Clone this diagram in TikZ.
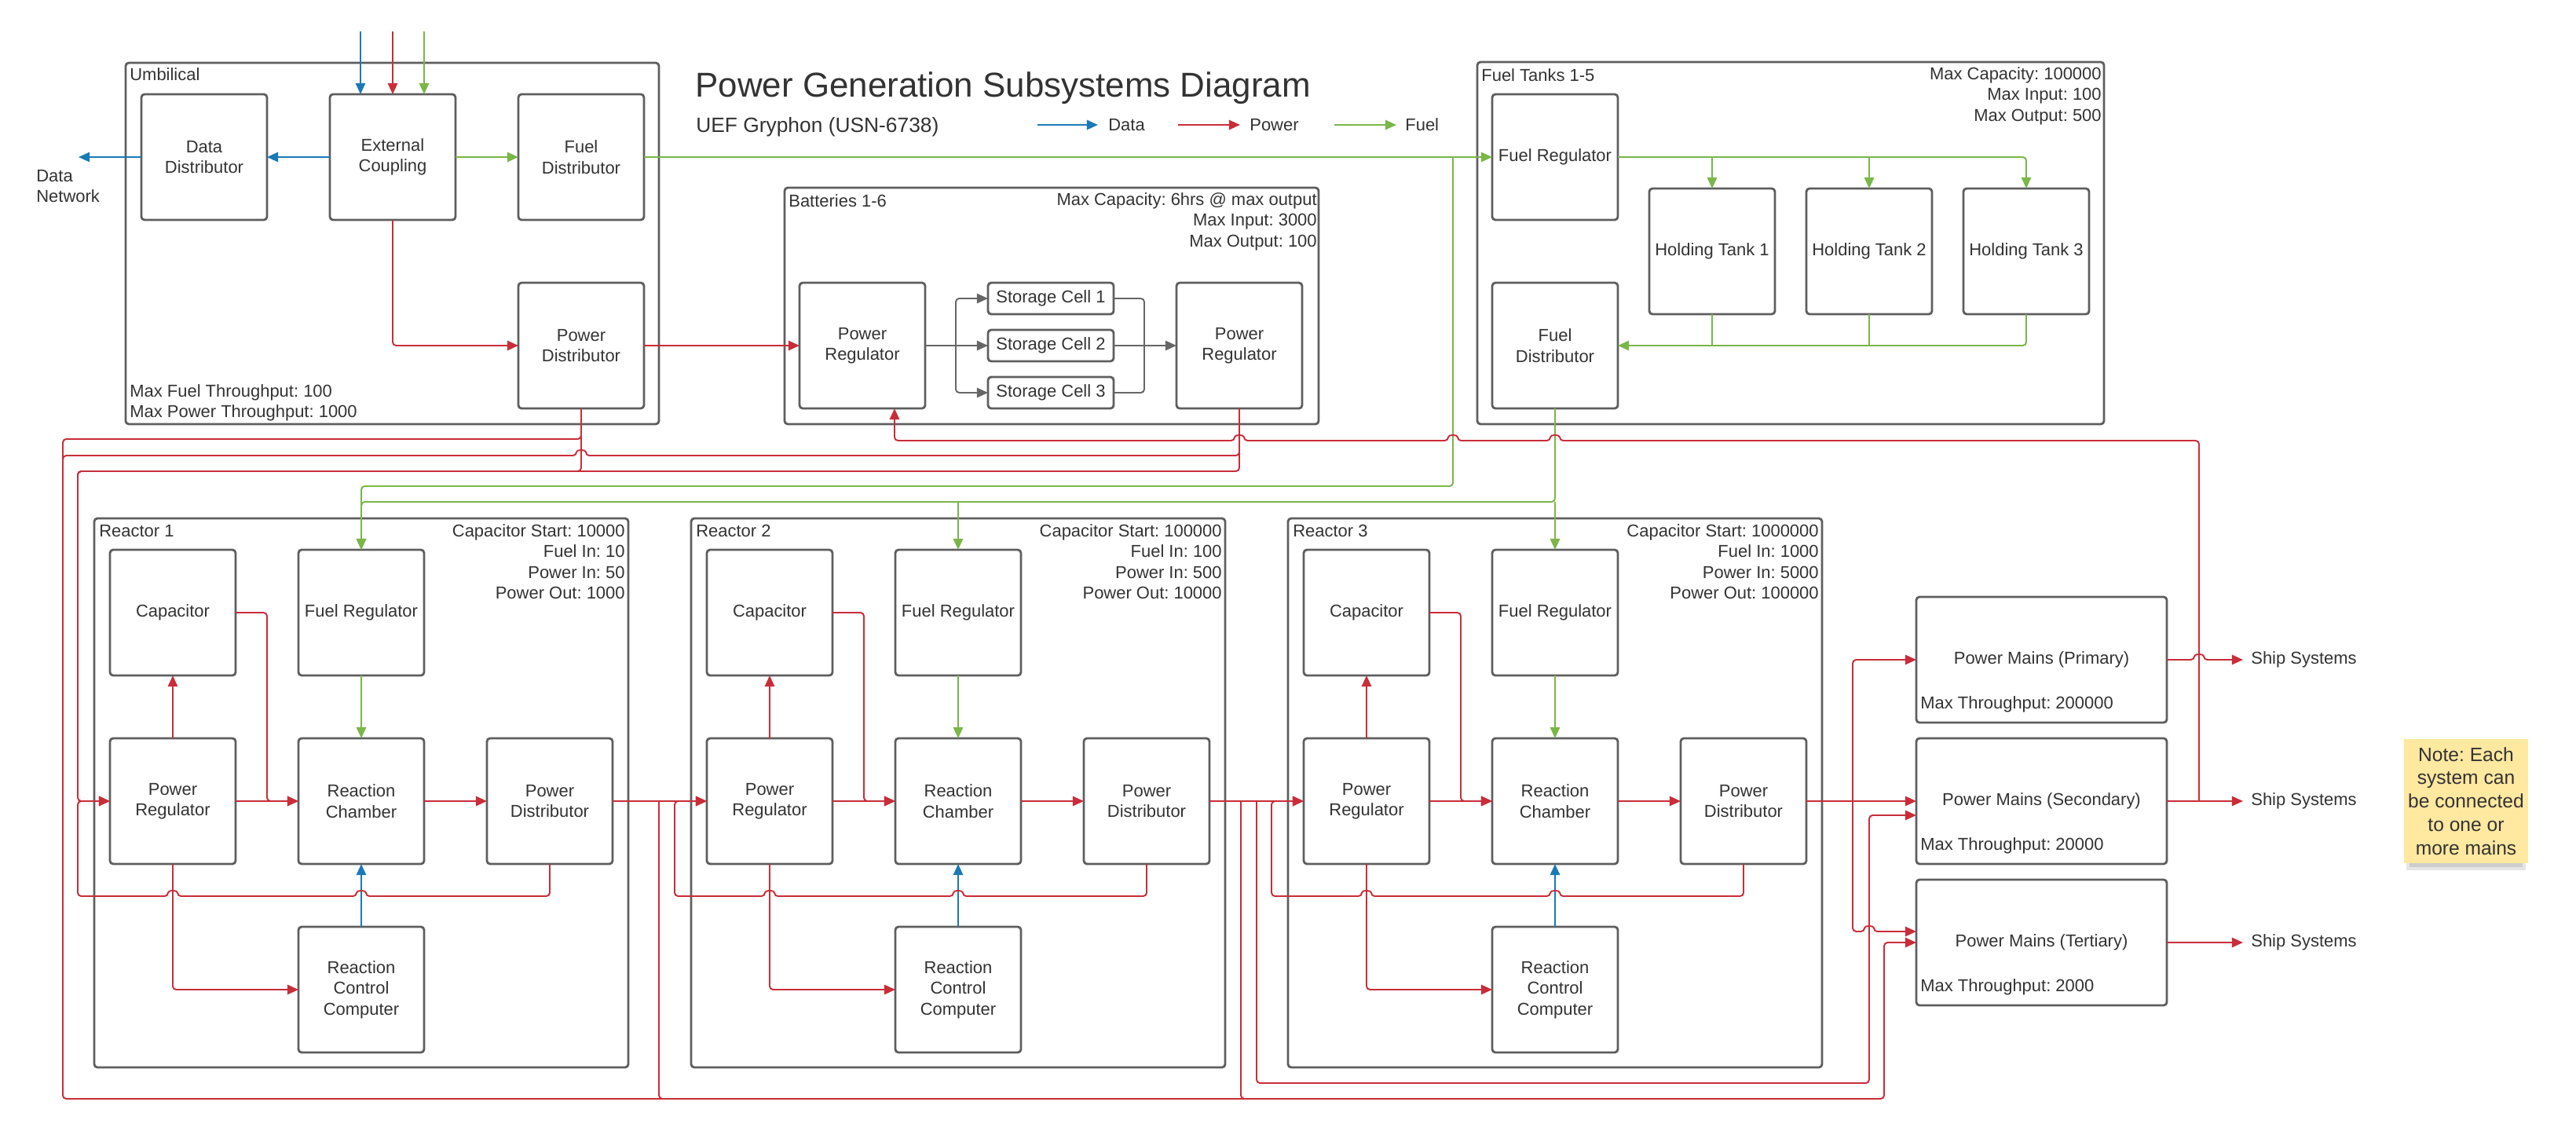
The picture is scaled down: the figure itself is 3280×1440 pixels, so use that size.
\documentclass[tikz,border=0pt]{standalone}
\usepackage{fontspec}
\setmainfont{Liberation Sans}
\usetikzlibrary{arrows.meta}
\frenchspacing
\definecolor{bgray}{HTML}{5E5E5E}
\definecolor{txt}{HTML}{333333}
\definecolor{pred}{HTML}{C92D39}
\definecolor{pgreen}{HTML}{7AB648}
\definecolor{pblue}{HTML}{1A7AB8}
\definecolor{cgray}{HTML}{666666}
\definecolor{notey}{HTML}{FFE8A0}
\tikzset{
  bx/.style={draw=bgray, line width=1.6pt, rounded corners=2.3pt, fill=white, inner sep=0pt, outer sep=0pt, align=center, text=txt},
  grp/.style={draw=bgray, line width=1.6pt, rounded corners=2.3pt, inner sep=0pt, outer sep=0pt},
  conn/.style={line width=1.1pt, rounded corners=2.5pt},
  pwr/.style={conn, color=pred},
  fuelc/.style={conn, color=pgreen},
  datac/.style={conn, color=pblue},
  cellc/.style={conn, color=cgray},
  arr/.style={-{Triangle[length=8pt,width=7pt]}},
  hopL/.style 2 args={insert path={-- (#1+6,#2) .. controls (#1+6,#2-8) and (#1-6,#2-8) .. (#1-6,#2)}},
  hopR/.style 2 args={insert path={-- (#1-6,#2) .. controls (#1-6,#2-8) and (#1+6,#2-8) .. (#1+6,#2)}},
}
\newcommand\mybox[6]{\node[bx, minimum width={(#4-#2)*0.02cm}, minimum height={(#5-#3)*0.02cm}] (#1) at ({(#2+#4)/2},{(#3+#5)/2}) {#6};}
\newcommand\mygrp[5]{\node[grp, minimum width={(#4-#2)*0.02cm}, minimum height={(#5-#3)*0.02cm}] (#1) at ({(#2+#4)/2},{(#3+#5)/2}) {};}
\begin{document}
\begin{tikzpicture}[x=0.02cm, y=-0.02cm, font=\fontsize{12.5}{15}\selectfont, every node/.append style={text=txt, inner sep=0pt}]
\useasboundingbox (0,0) rectangle (3280,1440);
\fill[white] (0,0) rectangle (3280,1440);

% ---------- title and legend ----------
\node[anchor=base west, font=\fontsize{25}{30}\selectfont] (title) at (885,123) {Power Generation Subsystems Diagram};
\node[anchor=base west, font=\fontsize{15}{18}\selectfont] (subtitle) at (886,168) {UEF Gryphon (USN-6738)};
\coordinate (lgD1) at (1321,159); \coordinate (lgD2) at (1398,159);
\coordinate (lgP1) at (1500,159); \coordinate (lgP2) at (1579,159);
\coordinate (lgF1) at (1699,159); \coordinate (lgF2) at (1778,159);
\node[anchor=west] (lgDt) at (1411,159) {Data};
\node[anchor=west] (lgPt) at (1591,159) {Power};
\node[anchor=west] (lgFt) at (1789,159) {Fuel};

% ---------- containers ----------
\mygrp{umb}{160}{80}{839}{540}
\mygrp{bat}{999}{239}{1679}{540}
\mygrp{ftk}{1881}{79}{2679}{540}

% ---------- umbilical ----------
\node[anchor=west] (umbt) at (165,95) {Umbilical};
\node[anchor=west, align=left] (umbs) at (165,513) {Max Fuel Throughput: 100\\Max Power Throughput: 1000};
\mybox{dd}{180}{120}{340}{280}{Data\\Distributor}
\mybox{ec}{420}{120}{580}{280}{External\\Coupling}
\mybox{fdu}{660}{120}{820}{280}{Fuel\\Distributor}
\mybox{pdu}{660}{360}{820}{520}{Power\\Distributor}
\node[anchor=west, align=left] (dnetl) at (46,237) {Data\\Network};

% ---------- batteries ----------
\node[anchor=west] (batt) at (1004,256) {Batteries 1-6};
\node[anchor=east, align=right] (bats) at (1677,282) {Max Capacity: 6hrs @ max output\\Max Input: 3000\\Max Output: 100};
\mybox{blr}{1018}{360}{1178}{520}{Power\\Regulator}
\mybox{cell1}{1258}{360}{1418}{400}{Storage Cell 1}
\mybox{cell2}{1258}{420}{1418}{460}{Storage Cell 2}
\mybox{cell3}{1258}{480}{1418}{520}{Storage Cell 3}
\mybox{brr}{1498}{360}{1658}{520}{Power\\Regulator}

% ---------- fuel tanks ----------
\node[anchor=west] (ftkt) at (1886,96) {Fuel Tanks 1-5};
\node[anchor=east, align=right] (ftks) at (2676,122) {Max Capacity: 100000\\Max Input: 100\\Max Output: 500};
\mybox{ftfr}{1900}{120}{2060}{280}{Fuel Regulator}
\mybox{ftfd}{1900}{360}{2060}{520}{Fuel\\Distributor}
\mybox{ht1}{2100}{240}{2260}{400}{Holding Tank 1}
\mybox{ht2}{2300}{240}{2460}{400}{Holding Tank 2}
\mybox{ht3}{2500}{240}{2660}{400}{Holding Tank 3}

% ---------- reactors ----------
\foreach \k/\dx/\rcs/\rfi/\rpi/\rpo in {1/0/10000/10/50/1000, 2/760/100000/100/500/10000, 3/1520/1000000/1000/5000/100000}{
\begin{scope}[xshift=\dx*0.02cm]
  \mygrp{r\k}{120}{660}{800}{1359}
  \node[anchor=west] (r\k-t) at (126,676) {Reactor \k};
  \node[anchor=east, align=right] (r\k-s) at (796,715) {Capacitor Start: \rcs\\Fuel In: \rfi\\Power In: \rpi\\Power Out: \rpo};
  \mybox{r\k-cap}{140}{700}{300}{860}{Capacitor}
  \mybox{r\k-fr}{380}{700}{540}{860}{Fuel Regulator}
  \mybox{r\k-pr}{140}{940}{300}{1100}{Power\\Regulator}
  \mybox{r\k-rc}{380}{940}{540}{1100}{Reaction\\Chamber}
  \mybox{r\k-pd}{620}{940}{780}{1100}{Power\\Distributor}
  \mybox{r\k-rcc}{380}{1180}{540}{1340}{Reaction\\Control\\Computer}
  \draw[pwr,arr] (r\k-pr.north) -- (r\k-cap.south);
  \draw[pwr,arr] (r\k-pr.east) -- (r\k-rc.west);
  \draw[pwr,arr] (r\k-cap.east) -- (340,780) -- (340,1020) -- (r\k-rc.west);
  \draw[pwr,arr] (r\k-rc.east) -- (r\k-pd.west);
  \draw[fuelc,arr] (r\k-fr.south) -- (r\k-rc.north);
  \draw[datac,arr] (r\k-rcc.north) -- (r\k-rc.south);
  \draw[pwr,arr] (r\k-pr.south) -- (220,1260) -- (r\k-rcc.west);
  \draw[pwr,arr] (r\k-pd.south) -- (700,1141) [hopL={460}{1141}] [hopL={220}{1141}] -- (99,1141) -- (99,1020) -- (r\k-pr.west);
\end{scope}
}

% ---------- power mains ----------
\mybox{prim}{2440}{760}{2759}{920}{Power Mains (Primary)}
\mybox{sec}{2440}{940}{2759}{1100}{Power Mains (Secondary)}
\mybox{tert}{2440}{1120}{2759}{1280}{Power Mains (Tertiary)}
\node[anchor=west] (primt) at (2445,897) {Max Throughput: 200000};
\node[anchor=west] (sect) at (2445,1077) {Max Throughput: 20000};
\node[anchor=west] (tertt) at (2445,1257) {Max Throughput: 2000};
\node[anchor=west] (ss1t) at (2866,840) {Ship Systems};
\node[anchor=west] (ss2t) at (2866,1020) {Ship Systems};
\node[anchor=west] (ss3t) at (2866,1200) {Ship Systems};

% ---------- note ----------
\fill[black, opacity=0.10] (3064,1094) rectangle (3216,1108);
\fill[black, opacity=0.10] (3068,1096) rectangle (3212,1104);
\node[fill=notey, inner sep=0pt, align=center, minimum width=3.16cm, minimum height=3.16cm, font=\fontsize{14}{17}\selectfont] (note) at (3140,1020) {Note: Each\\system can\\be connected\\to one or\\more mains};

% ---------- free ends ----------
\coordinate (inD) at (459,40);
\coordinate (inP) at (500,40);
\coordinate (inF) at (540,40);
\coordinate (dnet) at (100,200);
\coordinate (bret) at (1139,561);
\coordinate (secj) at (2800,1020);
\coordinate (secin2) at (2440,1038);
\coordinate (tertin2) at (2440,1186);
\coordinate (ss1) at (2856,840);
\coordinate (ss2) at (2856,1020);
\coordinate (ss3) at (2856,1200);

% ---------- legend arrows ----------
\draw[datac,arr] (lgD1) -- (lgD2);
\draw[pwr,arr] (lgP1) -- (lgP2);
\draw[fuelc,arr] (lgF1) -- (lgF2);

% ---------- umbilical connectors ----------
\draw[datac,arr] (inD) -- (inD |- ec.north);
\draw[pwr,arr] (inP) -- (ec.north);
\draw[fuelc,arr] (inF) -- (inF |- ec.north);
\draw[datac,arr] (ec.west) -- (dd.east);
\draw[datac,arr] (dd.west) -- (dnet);
\draw[fuelc,arr] (ec.east) -- (fdu.west);
\draw[pwr,arr] (ec.south) -- (500,440) -- (pdu.west);
\draw[pwr,arr] (pdu.east) -- (blr.west);

% ---------- fuel connectors ----------
\draw[fuelc,arr] (fdu.east) -- (ftfr.west);
\draw[fuelc,arr] (1850,200) -- (1850,619) -- (460,619) -- (r1-fr.north);
\draw[fuelc,arr] (ftfd.south) -- (1980,639) -- (460,639) -- (r1-fr.north);
\draw[fuelc,arr] (1220,639) -- (r2-fr.north);
\draw[fuelc,arr] (1980,639) -- (r3-fr.north);
\draw[fuelc,arr] (ftfr.east) -- (2580,200) -- (ht3.north);
\draw[fuelc,arr] (2180,200) -- (ht1.north);
\draw[fuelc,arr] (2380,200) -- (ht2.north);
\draw[fuelc,arr] (ht3.south) -- (2580,440) -- (ftfd.east);
\draw[fuelc] (ht1.south) -- (2180,440);
\draw[fuelc] (ht2.south) -- (2380,440);

% ---------- battery internals ----------
\draw[cellc,arr] (blr.east) -- (cell2.west);
\draw[cellc,arr] (1217,440) -- (1217,380) -- (cell1.west);
\draw[cellc,arr] (1217,440) -- (1217,500) -- (cell3.west);
\draw[cellc,arr] (cell2.east) -- (brr.west);
\draw[cellc] (cell1.east) -- (1457,380) -- (1457,440);
\draw[cellc] (cell3.east) -- (1457,500) -- (1457,440);

% ---------- power distribution ----------
\draw[pwr,arr] (pdu.south) -- (740,559) -- (80,559) -- (80,1399) -- (2399,1399) -- (2399,1200) -- (tert.west);
\draw[pwr,arr] (pdu.south) -- (740,600) -- (99,600) -- (99,1020) -- (r1-pr.west);
\draw[pwr] (brr.south) -- (1578,580) [hopL={740}{580}] -- (80,580) -- (80,640);
\draw[pwr] (brr.south) -- (1578,600) -- (99,600) -- (99,660);
\draw[pwr,arr] (secj) -- (2800,561) [hopL={1980}{561}] [hopL={1850}{561}] [hopL={1578}{561}] -- (bret) -- (blr.south -| bret);

\draw[pwr,arr] (r1-pd.east) -- (r2-pr.west);
\draw[pwr] (839,1020) -- (839,1399) -- (880,1399);
\draw[pwr,arr] (r2-pd.east) -- (r3-pr.west);
\draw[pwr] (1580,1020) -- (1580,1399) -- (1620,1399);
\draw[pwr,arr] (1600,1020) -- (1600,1379) -- (2380,1379) -- (2380,1038) -- (secin2);
\draw[pwr,arr] (r3-pd.east) -- (sec.west);
\draw[pwr,arr] (2359,1020) -- (2359,840) -- (prim.west);
\draw[pwr,arr] (2359,1020) -- (2359,1186) [hopR={2380}{1186}] -- (tertin2);

\draw[pwr,arr] (prim.east) [hopR={2800}{840}] -- (ss1);
\draw[pwr,arr] (sec.east) -- (ss2);
\draw[pwr,arr] (tert.east) -- (ss3);
\end{tikzpicture}
\end{document}
